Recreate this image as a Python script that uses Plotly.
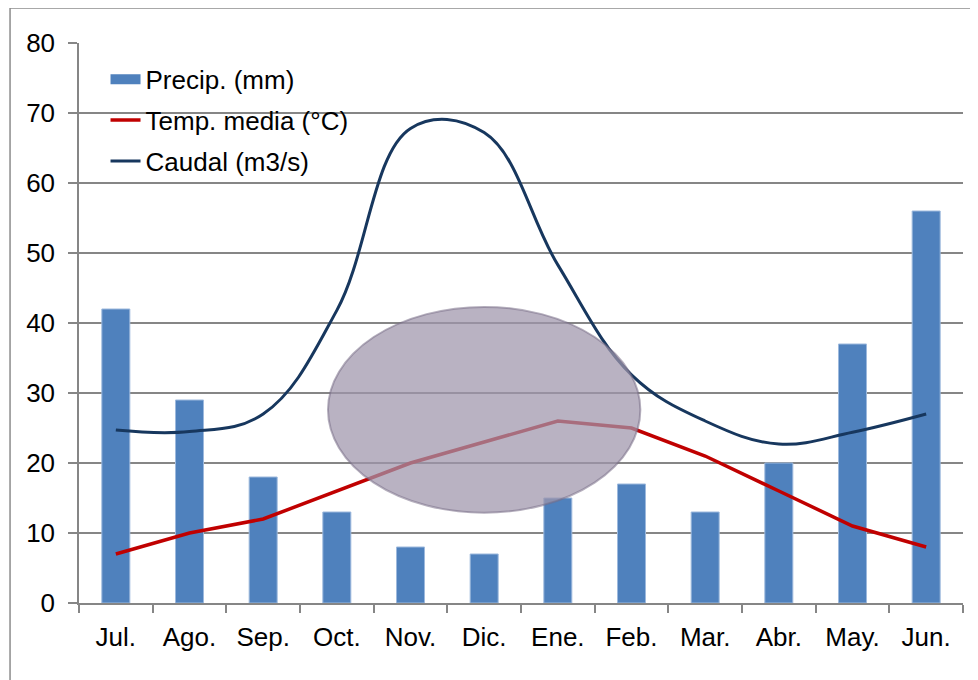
import plotly.graph_objects as go

months = ["Jul.", "Ago.", "Sep.", "Oct.", "Nov.", "Dic.", "Ene.", "Feb.", "Mar.", "Abr.", "May.", "Jun."]
precip = [42, 29, 18, 13, 8, 7, 15, 17, 13, 20, 37, 56]
temp = [7, 10, 12, 16, 20, 23, 26, 25, 21, 16, 11, 8]
caudal = [24.7, 24.5, 27, 41.8, 67.8, 67.2, 48.3, 32.6, 26, 22.7, 24.4, 27]
y_ticks = [0, 10, 20, 30, 40, 50, 60, 70, 80]

FONT = "Liberation Sans, Arial, sans-serif"
BLUE = "#4F81BD"

fig = go.Figure()
fig.add_trace(go.Bar(
    x=months, y=precip, name="Precip. (mm)", width=0.38,
    marker=dict(color=BLUE, line=dict(color="#9DB9DD", width=1)),
    showlegend=False, legendgroup="a",
))
# legend entry for precipitation drawn as a wide rectangle
fig.add_trace(go.Scatter(
    x=[None], y=[None], name="Precip. (mm)", mode="lines",
    line=dict(color=BLUE, width=15), legendgroup="a",
))
fig.add_trace(go.Scatter(
    x=months, y=temp, name="Temp. media (°C)", mode="lines",
    line=dict(color="#C00000", width=3.5),
    legendgroup="b",
))
fig.add_trace(go.Scatter(
    x=months, y=caudal, name="Caudal (m3/s)", mode="lines",
    line=dict(color="#17375E", width=3, shape="spline", smoothing=1.1),
    legendgroup="c",
))

shapes = [
    # outer chart border
    dict(type="rect", xref="paper", yref="paper", x0=-0.078, x1=1.0114, y0=-0.3, y1=1.0625,
         line=dict(color="#8C8C8C", width=1.5), fillcolor="rgba(0,0,0,0)", layer="below"),
    # right side gray band
    dict(type="rect", xref="paper", yref="paper", x0=1.0136, x1=1.03, y0=-0.3, y1=1.03,
         line=dict(width=0), fillcolor="#A8A8A8", layer="below"),
    # translucent ellipse
    dict(type="circle", xref="x", yref="y", x0=2.88, x1=7.12, y0=12.9, y1=42.3,
         fillcolor="rgba(159,150,171,0.73)",
         line=dict(color="rgba(120,110,135,0.55)", width=2), layer="above"),
]

fig.update_layout(
    width=978, height=680,
    margin=dict(l=71, r=23, t=35, b=85),
    paper_bgcolor="white", plot_bgcolor="white",
    font=dict(family=FONT, size=26, color="black"),
    showlegend=True,
    legend=dict(
        x=0.03, y=0.977, xanchor="left", yanchor="top",
        bgcolor="rgba(0,0,0,0)", borderwidth=0,
        font=dict(family=FONT, size=26, color="black"),
        tracegroupgap=4, traceorder="grouped", itemwidth=30,
    ),
    shapes=shapes,
    xaxis=dict(
        type="category", range=[-0.5, 11.5],
        showline=True, linecolor="#868686", linewidth=1.5,
        ticks="outside", tickson="boundaries", ticklen=8, tickcolor="#868686", tickwidth=1.5,
        showgrid=False, ticklabelstandoff=10,
        tickfont=dict(family=FONT, size=26, color="black"),
    ),
    yaxis=dict(
        range=[0, 80], tickvals=y_ticks,
        showline=True, linecolor="#868686", linewidth=1.5,
        ticks="outside", ticklen=9, tickcolor="#868686", tickwidth=1.5,
        showgrid=True, gridcolor="#868686", gridwidth=1.5,
        zeroline=False, ticklabelstandoff=8,
        tickfont=dict(family=FONT, size=26, color="black"),
    ),
)

fig.write_html("out.html")
